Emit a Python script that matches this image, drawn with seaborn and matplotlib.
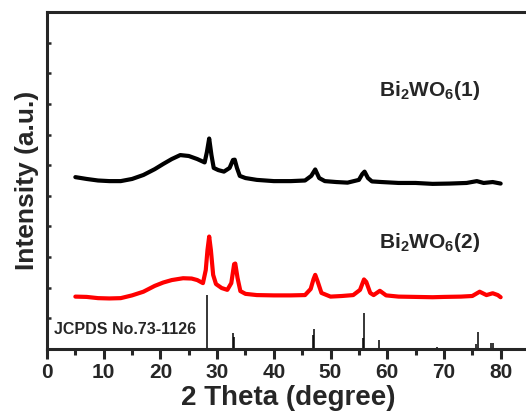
import numpy as np
import pandas as pd
import seaborn as sns
import matplotlib.pyplot as plt

# XRD traces (2 theta, stacked intensity in plot units)
theta_1 = [5, 7, 9, 11, 13, 15, 17, 19, 20.5, 22, 23.5, 25, 26.5, 27.8, 28.2, 28.6,
           29.0, 29.4, 30.2, 31.2, 32.2, 32.8, 33.1, 33.5, 34.0, 35, 37, 40, 43, 45.5,
           46.6, 47.3, 48.0, 49, 51, 53, 55.0, 55.6, 56.0, 56.6, 57.3, 59, 62, 65, 68,
           71, 74, 75.8, 77, 78.6, 80]
int_1 = [5.61, 5.55, 5.50, 5.48, 5.48, 5.55, 5.68, 5.87, 6.04, 6.20, 6.33, 6.30, 6.20,
         6.09, 6.43, 6.87, 6.33, 5.91, 5.84, 5.79, 5.91, 6.17, 6.18, 5.91, 5.65, 5.58,
         5.52, 5.48, 5.48, 5.50, 5.65, 5.86, 5.58, 5.48, 5.45, 5.43, 5.52, 5.71, 5.79,
         5.58, 5.47, 5.45, 5.42, 5.42, 5.39, 5.40, 5.42, 5.48, 5.42, 5.45, 5.40]

theta_2 = [5, 7, 9, 11, 13, 15, 17, 19, 20.5, 22, 24, 25.5, 26.5, 27.5, 28.0, 28.3,
           28.6, 28.9, 29.3, 29.8, 30.8, 31.8, 32.5, 33.0, 33.2, 33.6, 34.1, 35, 37, 40,
           43, 45.5, 46.5, 47.0, 47.3, 47.7, 48.4, 50, 52, 54, 55.2, 55.9, 56.3, 57.0,
           57.6, 58.7, 59.8, 62, 65, 68, 70, 73, 75, 76.3, 77.5, 78.6, 79.5, 80]
int_2 = [1.71, 1.70, 1.66, 1.65, 1.66, 1.75, 1.87, 2.06, 2.17, 2.25, 2.31, 2.30, 2.25,
         2.15, 2.58, 3.23, 3.67, 3.23, 2.42, 2.12, 1.99, 1.93, 2.15, 2.77, 2.79, 2.32,
         1.89, 1.80, 1.76, 1.75, 1.75, 1.76, 1.96, 2.28, 2.42, 2.22, 1.83, 1.71, 1.73,
         1.76, 1.93, 2.27, 2.19, 1.83, 1.76, 1.90, 1.75, 1.71, 1.70, 1.69, 1.70, 1.71,
         1.73, 1.87, 1.76, 1.82, 1.76, 1.69]

# reference pattern JCPDS 73-1126
ref_theta = [28.3, 32.75, 33.05, 35.9, 46.95, 47.15, 55.65, 55.9, 58.5, 68.8, 75.7, 75.95, 78.3, 78.6]
ref_height = [1.76, 0.52, 0.40, 0.04, 0.45, 0.65, 0.35, 1.17, 0.30, 0.05, 0.15, 0.55, 0.18, 0.20]

df = pd.concat([
    pd.DataFrame({'theta': theta_1, 'intensity': int_1, 'sample': '1'}),
    pd.DataFrame({'theta': theta_2, 'intensity': int_2, 'sample': '2'}),
])

sns.set_style('ticks')
plt.rcParams['font.family'] = ['Liberation Sans', 'DejaVu Sans']
plt.rcParams['font.weight'] = 'bold'

fig = plt.figure(figsize=(5.26, 4.13), dpi=100)
ax = fig.add_axes([47 / 526, 64 / 413, 482 / 526, 337 / 413])

sns.lineplot(data=df, x='theta', y='intensity', hue='sample',
             palette={'1': 'black', '2': '#ff0000'}, lw=3.0, legend=False, ax=ax,
             estimator=None, sort=False)
ax.vlines(ref_theta, 0, ref_height, color='black', lw=1.1)

ax.set_xlim(0, 85)
ax.set_ylim(0, 11)
ax.set_xticks(np.arange(0, 81, 10))
ax.set_xticks(np.arange(5, 81, 10), minor=True)
ax.set_yticks(np.arange(1, 11))
ax.set_yticklabels([])

for s in ax.spines.values():
    s.set_linewidth(2.2)
ax.tick_params(axis='x', which='major', direction='out', length=7, width=2.2,
               labelsize=15, pad=3)
ax.tick_params(axis='x', which='minor', direction='out', length=4, width=2.2)
ax.tick_params(axis='y', direction='in', length=3, width=1.8)
for lab in ax.get_xticklabels():
    lab.set_fontweight('bold')

ax.set_xlabel('2 Theta (degree)', fontsize=20, fontweight='bold', labelpad=2)
ax.set_ylabel('Intensity (a.u.)', fontsize=19, fontweight='bold', labelpad=2)

ax.text(67.5, 8.45, r'Bi$_\mathregular{2}$WO$_\mathregular{6}$(1)', fontsize=15,
        fontweight='bold', ha='center', va='center')
ax.text(67.5, 3.46, r'Bi$_\mathregular{2}$WO$_\mathregular{6}$(2)', fontsize=15,
        fontweight='bold', ha='center', va='center')
ax.text(1.2, 0.65, 'JCPDS No.73-1126', fontsize=11.5, fontweight='bold',
        ha='left', va='center')

fig.savefig('out.png', dpi=100)
